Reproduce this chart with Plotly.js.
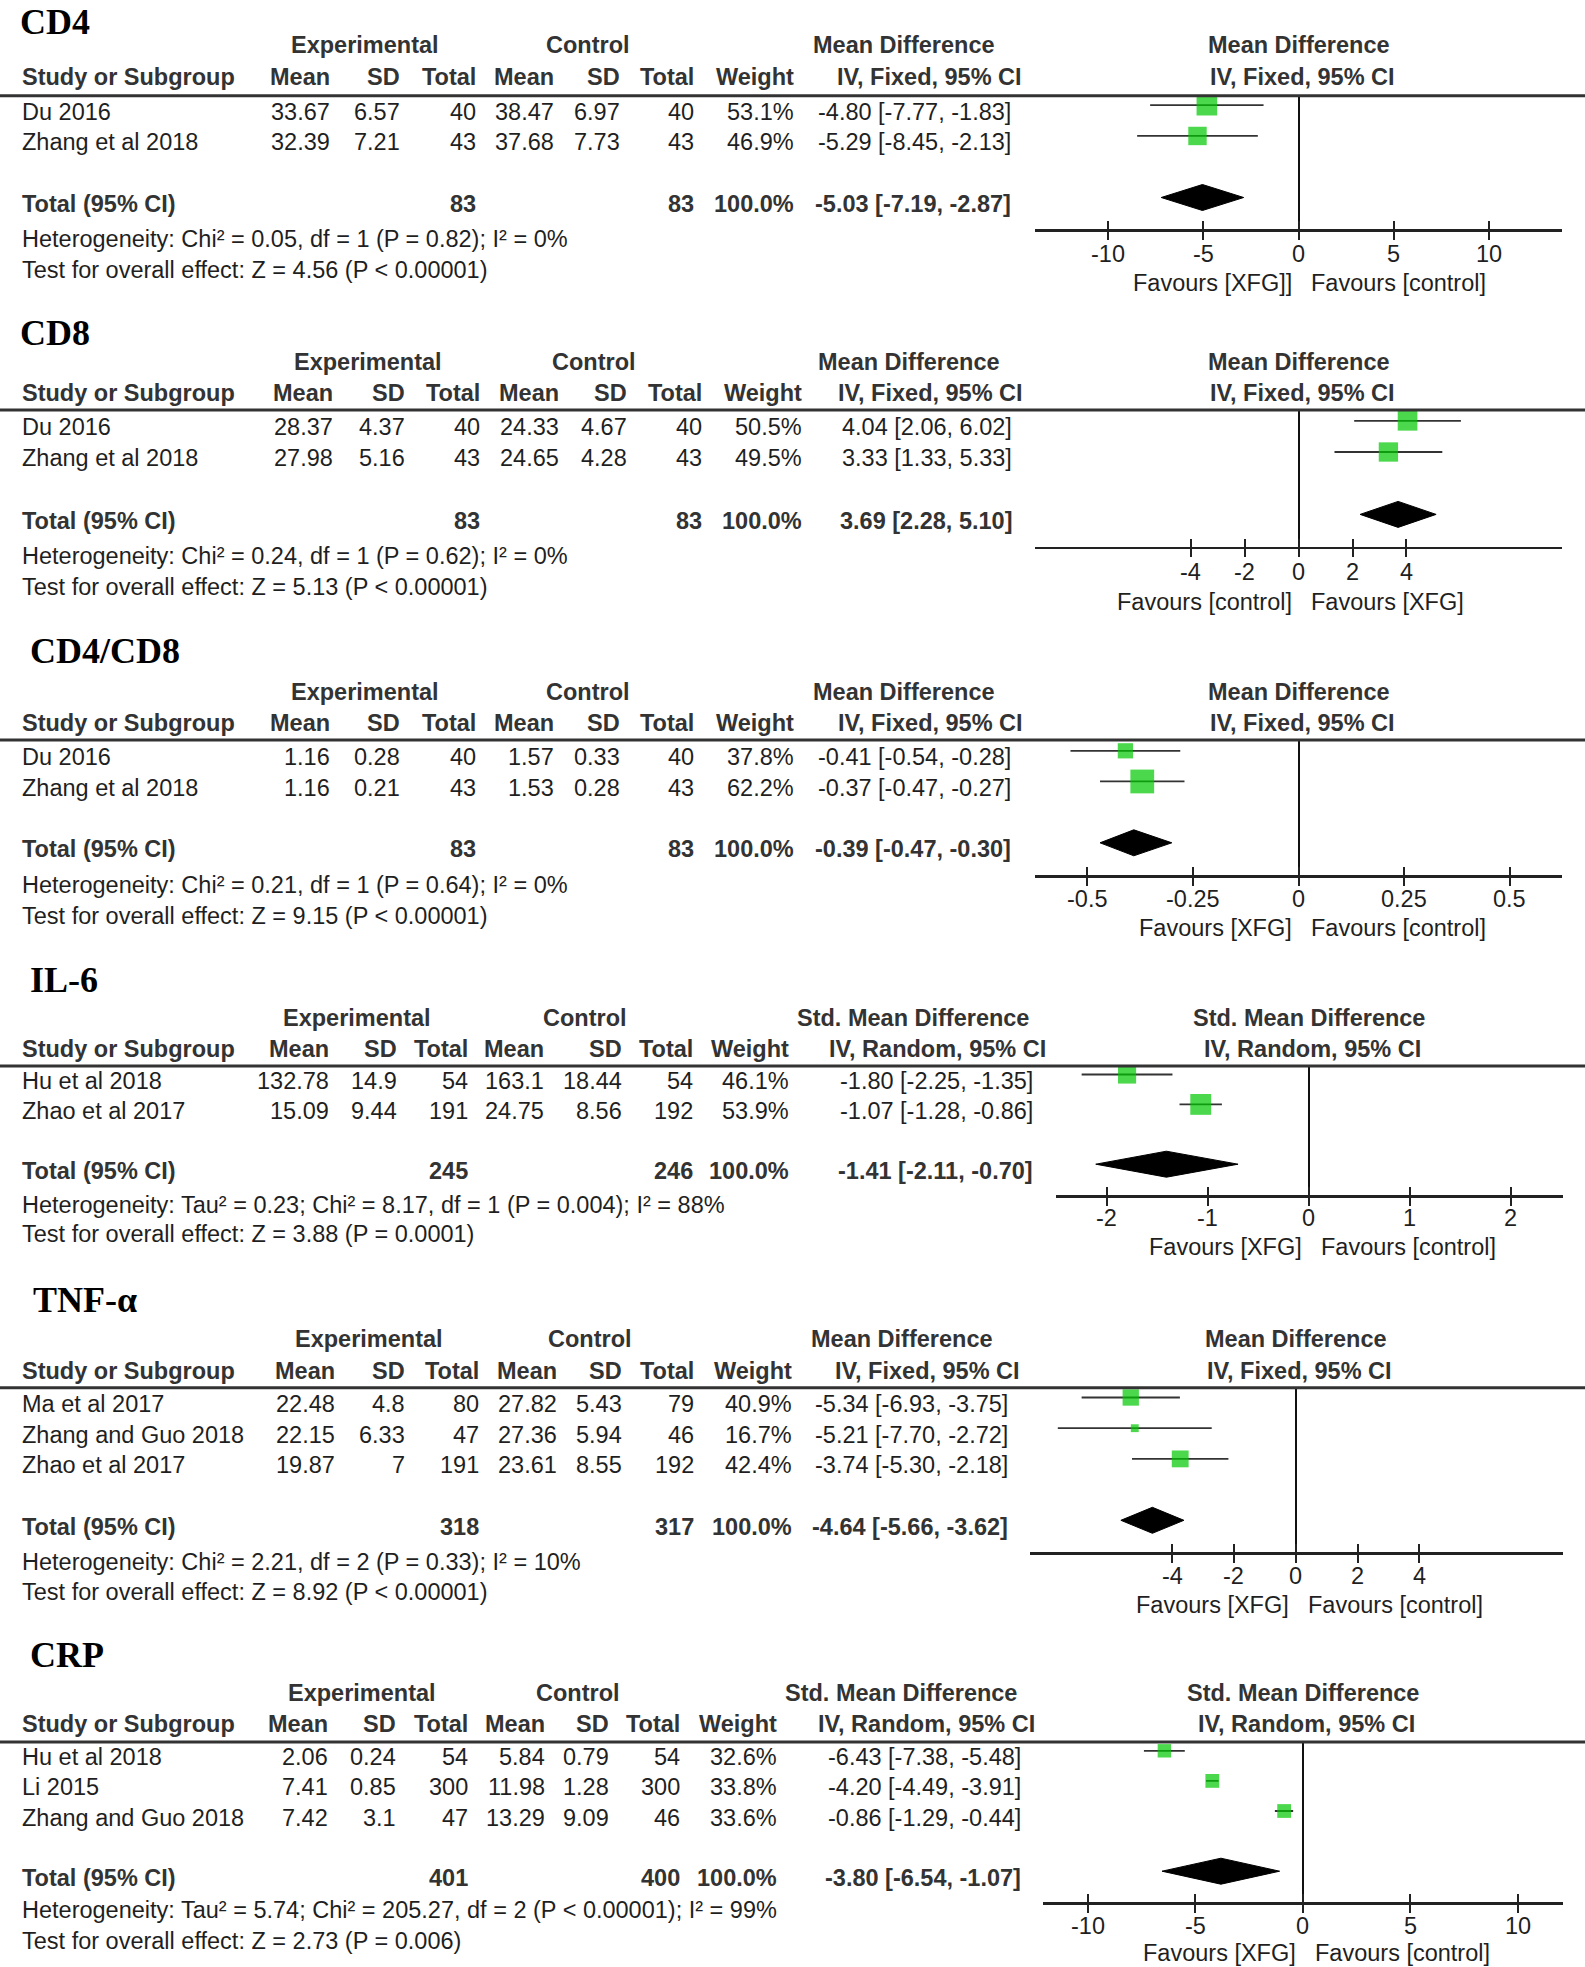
<!DOCTYPE html>
<html><head><meta charset="utf-8">
<script src="https://cdn.plot.ly/plotly-3.0.1.min.js"></script>
<style>html,body{margin:0;padding:0;background:#fff;}#chart{width:1585px;height:1967px;}</style>
</head><body><div id="chart"></div>
<script>
// ================= DATA =================
// CD4
const cd4_studies = ["Du 2016", "Zhang et al 2018"];
const cd4_expMean = [33.67, 32.39];
const cd4_expSD = [6.57, 7.21];
const cd4_expN = [40, 43];
const cd4_ctlMean = [38.47, 37.68];
const cd4_ctlSD = [6.97, 7.73];
const cd4_ctlN = [40, 43];
const cd4_weight = [53.1, 46.9];
const cd4_est = [-4.80, -5.29];
const cd4_lo = [-7.77, -8.45];
const cd4_hi = [-1.83, -2.13];
const cd4_totalN = [83, 83];
const cd4_total = [-5.03, -7.19, -2.87];
const cd4_het = "Heterogeneity: Chi² = 0.05, df = 1 (P = 0.82); I² = 0%";
const cd4_test = "Test for overall effect: Z = 4.56 (P &lt; 0.00001)";
const cd4_ticks = [-10, -5, 0, 5, 10];
const cd4_favours = ["Favours [XFG]]", "Favours [control]"];

// CD8
const cd8_studies = ["Du 2016", "Zhang et al 2018"];
const cd8_expMean = [28.37, 27.98];
const cd8_expSD = [4.37, 5.16];
const cd8_expN = [40, 43];
const cd8_ctlMean = [24.33, 24.65];
const cd8_ctlSD = [4.67, 4.28];
const cd8_ctlN = [40, 43];
const cd8_weight = [50.5, 49.5];
const cd8_est = [4.04, 3.33];
const cd8_lo = [2.06, 1.33];
const cd8_hi = [6.02, 5.33];
const cd8_totalN = [83, 83];
const cd8_total = [3.69, 2.28, 5.10];
const cd8_het = "Heterogeneity: Chi² = 0.24, df = 1 (P = 0.62); I² = 0%";
const cd8_test = "Test for overall effect: Z = 5.13 (P &lt; 0.00001)";
const cd8_ticks = [-4, -2, 0, 2, 4];
const cd8_favours = ["Favours [control]", "Favours [XFG]"];

// CD4/CD8
const ratio_studies = ["Du 2016", "Zhang et al 2018"];
const ratio_expMean = [1.16, 1.16];
const ratio_expSD = [0.28, 0.21];
const ratio_expN = [40, 43];
const ratio_ctlMean = [1.57, 1.53];
const ratio_ctlSD = [0.33, 0.28];
const ratio_ctlN = [40, 43];
const ratio_weight = [37.8, 62.2];
const ratio_est = [-0.41, -0.37];
const ratio_lo = [-0.54, -0.47];
const ratio_hi = [-0.28, -0.27];
const ratio_totalN = [83, 83];
const ratio_total = [-0.39, -0.47, -0.30];
const ratio_het = "Heterogeneity: Chi² = 0.21, df = 1 (P = 0.64); I² = 0%";
const ratio_test = "Test for overall effect: Z = 9.15 (P &lt; 0.00001)";
const ratio_ticks = [-0.5, -0.25, 0, 0.25, 0.5];
const ratio_favours = ["Favours [XFG]", "Favours [control]"];

// IL-6
const il6_studies = ["Hu et al 2018", "Zhao et al 2017"];
const il6_expMean = [132.78, 15.09];
const il6_expSD = [14.9, 9.44];
const il6_expN = [54, 191];
const il6_ctlMean = [163.1, 24.75];
const il6_ctlSD = [18.44, 8.56];
const il6_ctlN = [54, 192];
const il6_weight = [46.1, 53.9];
const il6_est = [-1.80, -1.07];
const il6_lo = [-2.25, -1.28];
const il6_hi = [-1.35, -0.86];
const il6_totalN = [245, 246];
const il6_total = [-1.41, -2.11, -0.70];
const il6_het = "Heterogeneity: Tau² = 0.23; Chi² = 8.17, df = 1 (P = 0.004); I² = 88%";
const il6_test = "Test for overall effect: Z = 3.88 (P = 0.0001)";
const il6_ticks = [-2, -1, 0, 1, 2];
const il6_favours = ["Favours [XFG]", "Favours [control]"];

// TNF-α
const tnf_studies = ["Ma et al 2017", "Zhang and Guo 2018", "Zhao et al 2017"];
const tnf_expMean = [22.48, 22.15, 19.87];
const tnf_expSD = [4.8, 6.33, 7];
const tnf_expN = [80, 47, 191];
const tnf_ctlMean = [27.82, 27.36, 23.61];
const tnf_ctlSD = [5.43, 5.94, 8.55];
const tnf_ctlN = [79, 46, 192];
const tnf_weight = [40.9, 16.7, 42.4];
const tnf_est = [-5.34, -5.21, -3.74];
const tnf_lo = [-6.93, -7.70, -5.30];
const tnf_hi = [-3.75, -2.72, -2.18];
const tnf_totalN = [318, 317];
const tnf_total = [-4.64, -5.66, -3.62];
const tnf_het = "Heterogeneity: Chi² = 2.21, df = 2 (P = 0.33); I² = 10%";
const tnf_test = "Test for overall effect: Z = 8.92 (P &lt; 0.00001)";
const tnf_ticks = [-4, -2, 0, 2, 4];
const tnf_favours = ["Favours [XFG]", "Favours [control]"];

// CRP
const crp_studies = ["Hu et al 2018", "Li 2015", "Zhang and Guo 2018"];
const crp_expMean = [2.06, 7.41, 7.42];
const crp_expSD = [0.24, 0.85, 3.1];
const crp_expN = [54, 300, 47];
const crp_ctlMean = [5.84, 11.98, 13.29];
const crp_ctlSD = [0.79, 1.28, 9.09];
const crp_ctlN = [54, 300, 46];
const crp_weight = [32.6, 33.8, 33.6];
const crp_est = [-6.43, -4.20, -0.86];
const crp_lo = [-7.38, -4.49, -1.29];
const crp_hi = [-5.48, -3.91, -0.44];
const crp_totalN = [401, 400];
const crp_total = [-3.80, -6.54, -1.07];
const crp_het = "Heterogeneity: Tau² = 5.74; Chi² = 205.27, df = 2 (P &lt; 0.00001); I² = 99%";
const crp_test = "Test for overall effect: Z = 2.73 (P = 0.006)";
const crp_ticks = [-10, -5, 0, 5, 10];
const crp_favours = ["Favours [XFG]", "Favours [control]"];

const panelTitles = ["CD4", "CD8", "CD4/CD8", "IL-6", "TNF-α", "CRP"];
const effectNames = ["Mean Difference", "Mean Difference", "Mean Difference", "Std. Mean Difference", "Mean Difference", "Std. Mean Difference"];
const methodNames = ["IV, Fixed, 95% CI", "IV, Fixed, 95% CI", "IV, Fixed, 95% CI", "IV, Random, 95% CI", "IV, Fixed, 95% CI", "IV, Random, 95% CI"];
const colHeaders = ["Mean", "SD", "Total", "Mean", "SD", "Total", "Weight"];

// build table from the arrays
const panels = [
  {studies:cd4_studies, expMean:cd4_expMean, expSD:cd4_expSD, expN:cd4_expN, ctlMean:cd4_ctlMean, ctlSD:cd4_ctlSD, ctlN:cd4_ctlN, weight:cd4_weight, est:cd4_est, lo:cd4_lo, hi:cd4_hi, totalN:cd4_totalN, total:cd4_total, het:cd4_het, test:cd4_test, ticks:cd4_ticks, fav:cd4_favours},
  {studies:cd8_studies, expMean:cd8_expMean, expSD:cd8_expSD, expN:cd8_expN, ctlMean:cd8_ctlMean, ctlSD:cd8_ctlSD, ctlN:cd8_ctlN, weight:cd8_weight, est:cd8_est, lo:cd8_lo, hi:cd8_hi, totalN:cd8_totalN, total:cd8_total, het:cd8_het, test:cd8_test, ticks:cd8_ticks, fav:cd8_favours},
  {studies:ratio_studies, expMean:ratio_expMean, expSD:ratio_expSD, expN:ratio_expN, ctlMean:ratio_ctlMean, ctlSD:ratio_ctlSD, ctlN:ratio_ctlN, weight:ratio_weight, est:ratio_est, lo:ratio_lo, hi:ratio_hi, totalN:ratio_totalN, total:ratio_total, het:ratio_het, test:ratio_test, ticks:ratio_ticks, fav:ratio_favours},
  {studies:il6_studies, expMean:il6_expMean, expSD:il6_expSD, expN:il6_expN, ctlMean:il6_ctlMean, ctlSD:il6_ctlSD, ctlN:il6_ctlN, weight:il6_weight, est:il6_est, lo:il6_lo, hi:il6_hi, totalN:il6_totalN, total:il6_total, het:il6_het, test:il6_test, ticks:il6_ticks, fav:il6_favours},
  {studies:tnf_studies, expMean:tnf_expMean, expSD:tnf_expSD, expN:tnf_expN, ctlMean:tnf_ctlMean, ctlSD:tnf_ctlSD, ctlN:tnf_ctlN, weight:tnf_weight, est:tnf_est, lo:tnf_lo, hi:tnf_hi, totalN:tnf_totalN, total:tnf_total, het:tnf_het, test:tnf_test, ticks:tnf_ticks, fav:tnf_favours},
  {studies:crp_studies, expMean:crp_expMean, expSD:crp_expSD, expN:crp_expN, ctlMean:crp_ctlMean, ctlSD:crp_ctlSD, ctlN:crp_ctlN, weight:crp_weight, est:crp_est, lo:crp_lo, hi:crp_hi, totalN:crp_totalN, total:crp_total, het:crp_het, test:crp_test, ticks:crp_ticks, fav:crp_favours}
];

// ================= LAYOUT (pixel positions, full size) =================
const W = 1585, H = 1967;
const FONT = '"Liberation Sans", Arial, sans-serif';
const SERIF = '"Liberation Serif", "Times New Roman", serif';
const FS = 23.5;
const TXT = '#1f1f1f', HDR = '#333333';
const GEO = [
 {title:22, titleX:18, h1:45.5, h2:77.3, line:95.7, row0:111.7, step:30.77, het:239, test:270, axisY:229, ax0:1035, ax1:1562, range:[-13.8,13.8], tl:254, fav:283.3, cols:[332,402,477.5,555.5,622,696.3,796], ci:1013, expC:364.8, ctlC:588, mid1:904, mid2:929.6},
 {title:333, titleX:18, h1:361.7, h2:392.7, line:410, row0:427.3, step:31.2, het:556, test:586.7, axisY:546.7, ax0:1035, ax1:1562, range:[-9.78,9.77], tl:571.5, fav:601.7, cols:[335.3,406.6,482,561,628.6,704,804], ci:1013.6, expC:368, ctlC:594, mid1:908.5, mid2:930},
 {title:651, titleX:28, h1:691.7, h2:722.7, line:740, row0:757.3, step:30.67, het:885, test:916, axisY:875, ax0:1035, ax1:1562, range:[-0.624,0.624], tl:899.3, fav:928.3, cols:[332,402,477.5,555.5,622,696.3,796], ci:1012.5, expC:364.8, ctlC:588, mid1:904, mid2:930},
 {title:980, titleX:28, h1:1018.3, h2:1049, line:1066, row0:1081, step:29.9, het:1205, test:1234.3, axisY:1195, ax0:1055.7, ax1:1562.8, range:[-2.507,2.518], tl:1218.3, fav:1246.7, cols:[330.6,399,470.4,546,623.5,695,790.8], ci:1035, expC:357, ctlC:584.7, mid1:913, mid2:937.5},
 {title:1300, titleX:31, h1:1339.3, h2:1370.7, line:1387.7, row0:1404, step:30.7, het:1561.7, test:1591.7, axisY:1552.3, ax0:1030, ax1:1562.8, range:[-8.6,8.64], tl:1576.2, fav:1605, cols:[336.7,406.6,481,558.7,623.5,696.4,794.4], ci:1009.5, expC:369.4, ctlC:589.8, mid1:902, mid2:927},
 {title:1655, titleX:28, h1:1693.3, h2:1724, line:1742, row0:1757.3, step:30.1, het:1910, test:1941, axisY:1902.3, ax0:1043.3, ax1:1562.8, range:[-12.06,12.1], tl:1926.2, fav:1953.3, cols:[330,398,470.4,547,610.7,682,779], ci:1022.8, expC:361.7, ctlC:577.6, mid1:901, mid2:926.5}
];
const STUDYX = 20;
const MARK_OFF = 6.5;   // markers sit slightly above the text line
const DIA_HALF = 13;    // diamond half height (px)

const px = x => x / W;
const py = y => 1 - y / H;

const annotations = [], shapes = [], traces = [];
const layout = {
  width: W, height: H, margin: {l:0, r:0, t:0, b:0},
  paper_bgcolor: '#fff', plot_bgcolor: 'rgba(0,0,0,0)', showlegend: false,
  annotations, shapes, hovermode: false
};

function A(text, x, y, anchor, bold, extra) {
  const a = {text: bold ? '<b>' + text + '</b>' : text, x: px(x), y: py(y), xref:'paper', yref:'paper',
    xanchor: anchor, yanchor:'middle', showarrow:false,
    font:{family:FONT, size:FS, color: bold ? HDR : TXT}};
  return Object.assign(a, extra || {});
}
const fmt2 = v => v.toFixed(2);
const ciText = (e, l, h) => fmt2(e) + ' [' + fmt2(l) + ', ' + fmt2(h) + ']';

panels.forEach((d, k) => {
  const g = GEO[k];
  const idx = k + 1;
  const id = idx === 1 ? '' : String(idx);
  const n = d.studies.length;

  // title
  annotations.push({text:'<b>' + panelTitles[k] + '</b>', x:px(g.titleX), y:py(g.title), xref:'paper', yref:'paper',
    xanchor:'left', yanchor:'middle', showarrow:false, font:{family:SERIF, size:36, color:'#000'}});
  // header row 1
  annotations.push(A('Experimental', g.expC, g.h1, 'center', true));
  annotations.push(A('Control', g.ctlC, g.h1, 'center', true));
  annotations.push(A(effectNames[k], g.mid1, g.h1, 'center', true));
  // header row 2
  annotations.push(A('Study or Subgroup', STUDYX, g.h2, 'left', true));
  colHeaders.forEach((h, j) => annotations.push(A(h, g.cols[j], g.h2, 'right', true)));
  annotations.push(A(methodNames[k], g.mid2, g.h2, 'center', true));
  // right side headers (over the zero line)
  const hdrR = (t, y, xs) => ({text:'<b>' + t + '</b>', x:0, y:py(y), xref:'x' + id, yref:'paper', xanchor:'center', yanchor:'middle',
      xshift: xs, showarrow:false, font:{family:FONT, size:FS, color:HDR}});
  annotations.push(hdrR(effectNames[k], g.h1, 0));
  annotations.push(hdrR(methodNames[k], g.h2, 4));
  // header rule
  shapes.push({type:'line', xref:'paper', yref:'paper', x0:0, x1:1, y0:py(g.line), y1:py(g.line), line:{color:'#333', width:3}});

  // study rows
  for (let i = 0; i < n; i++) {
    const y = g.row0 + i * g.step;
    annotations.push(A(d.studies[i], STUDYX, y, 'left', false));
    const vals = [d.expMean[i], d.expSD[i], d.expN[i], d.ctlMean[i], d.ctlSD[i], d.ctlN[i]].map(String);
    vals.push(d.weight[i].toFixed(1) + '%');
    vals.forEach((v, j) => annotations.push(A(v, g.cols[j], y, 'right', false)));
    annotations.push(A(ciText(d.est[i], d.lo[i], d.hi[i]), g.ci, y, 'right', false));
  }
  // total row
  const ty = g.row0 + (n + 1) * g.step;
  annotations.push(A('Total (95% CI)', STUDYX, ty, 'left', true));
  annotations.push(A(String(d.totalN[0]), g.cols[2], ty, 'right', true));
  annotations.push(A(String(d.totalN[1]), g.cols[5], ty, 'right', true));
  annotations.push(A('100.0%', g.cols[6], ty, 'right', true));
  annotations.push(A(ciText(d.total[0], d.total[1], d.total[2]), g.ci, ty, 'right', true));
  annotations.push(A(d.het, STUDYX, g.het, 'left', false));
  annotations.push(A(d.test, STUDYX, g.test, 'left', false));

  // tick labels (placed on the axis scale)
  d.ticks.forEach(v => annotations.push({text:String(v), x:v, y:py(g.tl), xref:'x' + id, yref:'paper',
    xanchor:'center', yanchor:'middle', showarrow:false, font:{family:FONT, size:FS, color:TXT}}));

  // favours labels
  annotations.push({text:d.fav[0], x:0, y:py(g.fav), xref:'x' + id, yref:'paper', xanchor:'right', yanchor:'middle', xshift:-5,
    showarrow:false, font:{family:FONT, size:FS, color:TXT}});
  annotations.push({text:d.fav[1], x:0, y:py(g.fav), xref:'x' + id, yref:'paper', xanchor:'left', yanchor:'middle', xshift:10,
    showarrow:false, font:{family:FONT, size:FS, color:TXT}});

  // axes
  const base = g.row0 - MARK_OFF;
  const yBottom = (g.axisY - base) / g.step;
  const yTop = (g.line - base) / g.step;
  layout['xaxis' + id] = {
    domain:[px(g.ax0), px(g.ax1)], range:g.range, anchor:'y' + id, fixedrange:true,
    tickmode:'array', tickvals:d.ticks, showticklabels:false,
    ticks:'outside', ticklen:8, tickwidth:2, tickcolor:'#222',
    showline:true, linewidth:2.5, linecolor:'#222',
    zeroline:true, zerolinewidth:2, zerolinecolor:'#111', showgrid:false
  };
  layout['yaxis' + id] = {domain:[py(g.axisY), py(g.line)], range:[yBottom, yTop], anchor:'x' + id,
    visible:false, fixedrange:true, showgrid:false, zeroline:false};
  // overlay axis for the inward half of each tick
  const oid = String(idx + 6);
  layout['xaxis' + oid] = {
    overlaying:'x' + id, anchor:'y' + id, range:g.range, fixedrange:true,
    tickmode:'array', tickvals:d.ticks, ticks:'inside', ticklen:8, tickwidth:2, tickcolor:'#222',
    showticklabels:false, showline:false, zeroline:false, showgrid:false
  };
  traces.push({type:'scatter', mode:'markers', x:[], y:[], xaxis:'x' + oid, yaxis:'y' + id, hoverinfo:'skip'});

  // CI lines + weighted squares
  const rows = d.studies.map((_, i) => i);
  traces.push({
    type:'scatter', mode:'markers', x:d.est, y:rows, xaxis:'x' + id, yaxis:'y' + id, cliponaxis:false,
    marker:{symbol:'square', size:d.weight.map(w => 2 + 0.35 * w), color:'#00c800', line:{width:0}},
    error_x:{type:'data', symmetric:false, array:d.est.map((e, i) => d.hi[i] - e),
      arrayminus:d.est.map((e, i) => e - d.lo[i]), width:0, thickness:1.8, color:'#333'},
    hoverinfo:'skip'
  });
  // pooled diamond
  const t = n + 1, h = DIA_HALF / g.step;
  traces.push({
    type:'scatter', mode:'lines', xaxis:'x' + id, yaxis:'y' + id, cliponaxis:false,
    x:[d.total[1], d.total[0], d.total[2], d.total[0], d.total[1]],
    y:[t, t - h, t, t + h, t], fill:'toself', fillcolor:'#000', line:{color:'#000', width:1},
    hoverinfo:'skip'
  });
});

Plotly.newPlot('chart', traces, layout, {staticPlot:true, displayModeBar:false});
</script>
</body></html>
